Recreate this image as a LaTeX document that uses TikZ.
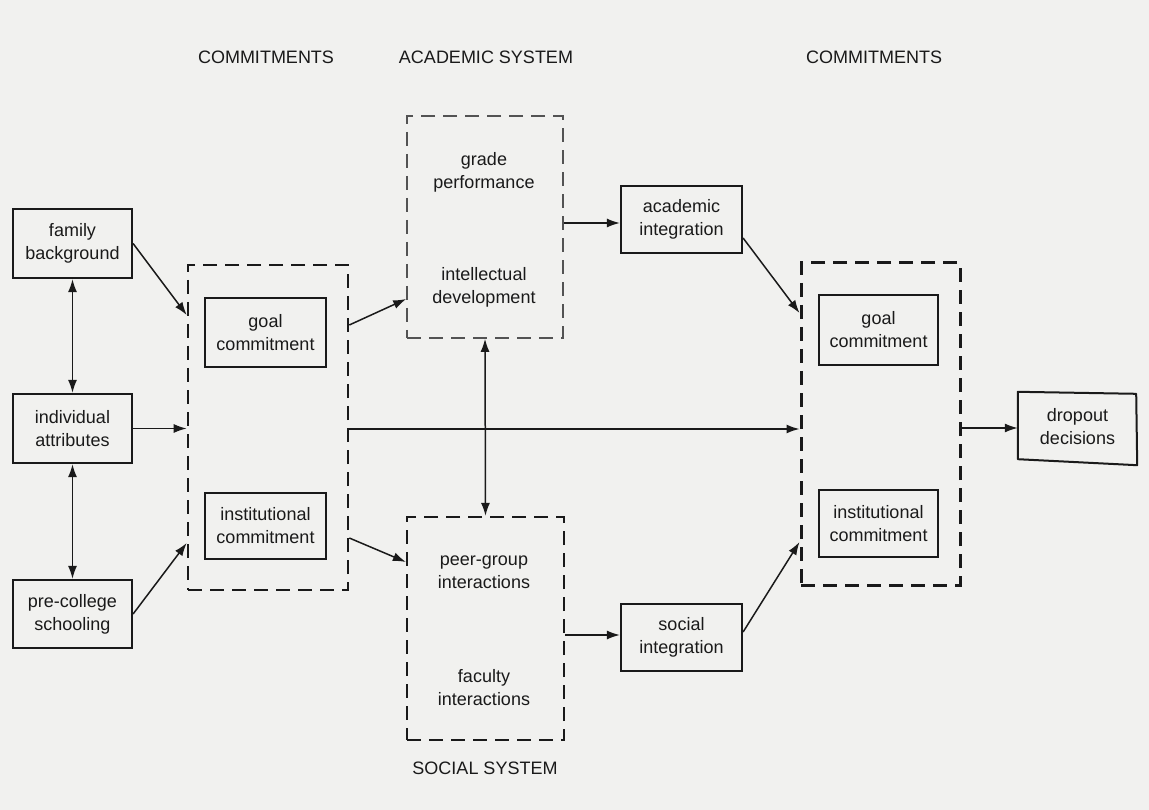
\documentclass[tikz,border=0pt]{standalone}
\usepackage{fontspec}
\setmainfont{Liberation Sans}
\usetikzlibrary{arrows.meta,calc}
\definecolor{ink}{HTML}{1A1A1A}
\definecolor{paper}{HTML}{F1F1EF}
\tikzset{
  every node/.style={font=\fontsize{18}{23}\selectfont, text=ink, align=center},
  solidbox/.style={draw=ink, line width=2.2pt, inner sep=0pt},
  dashbox/.style={draw=ink, line width=2.6pt, dash pattern=on 14pt off 8pt, inner sep=0pt},
  lightdash/.style={draw=ink!75, line width=1.6pt, dash pattern=on 14pt off 8pt, inner sep=0pt},
  arr/.style={draw=ink, line width=1.5pt, -{Latex[length=13pt,width=9pt]}},
  darr/.style={draw=ink, line width=1.5pt, {Latex[length=13pt,width=9pt]}-{Latex[length=13pt,width=9pt]}},
  title/.style={font=\fontsize{18}{23}\selectfont}
}
\begin{document}
\begin{tikzpicture}[x=1pt,y=-1pt]
\fill[paper] (0,0) rectangle (1149,810);
\useasboundingbox (0,0) rectangle (1149,810);

% titles
\node[title] (t1) at (266,57) {COMMITMENTS};
\node[title] (t2) at (486,57) {ACADEMIC SYSTEM};
\node[title] (t3) at (874,57) {COMMITMENTS};
\node[title] (t4) at (485,768) {SOCIAL SYSTEM};

% left column
\node[solidbox, minimum width=119pt, minimum height=69pt] (FB) at (72.5,243.5) {family\\background};
\node[solidbox, minimum width=119pt, minimum height=69pt] (IA) at (72.5,428.5) {individual\\attributes};
\node[solidbox, minimum width=119pt, minimum height=68pt] (PC) at (72.5,614) {pre-college\\schooling};

% left commitments
\node[dashbox, minimum width=160pt, minimum height=325pt] (LB) at (268,427.5) {};
\node[solidbox, minimum width=121pt, minimum height=69pt] (GC1) at (265.5,332.5) {goal\\commitment};
\node[solidbox, minimum width=121pt, minimum height=66pt] (IC1) at (265.5,526) {institutional\\commitment};

% academic system
\node[lightdash, minimum width=156pt, minimum height=222pt] (AS) at (485,227) {};
\node (GP) at (484,172) {grade\\performance};
\node (ID) at (484,287) {intellectual\\development};

% social system
\node[dashbox, line width=2.2pt, minimum width=157pt, minimum height=223pt] (SS) at (485.5,628.5) {};
\node (PG) at (484,572) {peer-group\\interactions};
\node (FI) at (484,688) {faculty\\interactions};

% integration
\node[solidbox, minimum width=121pt, minimum height=67pt] (AI) at (681.5,219.5) {academic\\integration};
\node[solidbox, minimum width=121pt, minimum height=67pt] (SI) at (681.5,637.5) {social\\integration};

% right commitments
\node[dashbox, line width=3pt, minimum width=159pt, minimum height=322pt] (RB) at (880.5,424) {};
\node[solidbox, minimum width=119pt, minimum height=70pt] (GC2) at (878.5,330) {goal\\commitment};
\node[solidbox, minimum width=119pt, minimum height=67pt] (IC2) at (878.5,523.5) {institutional\\commitment};

% dropout
\node[minimum width=119pt, minimum height=70pt, inner sep=0pt] (DD) at (1077.5,427) {dropout\\decisions};
\draw[ink, line width=2pt, line join=round]
  (DD.north west) -- ($(DD.north east)+(-1,2)$) -- ($(DD.south east)+(0,3)$) -- ($(DD.south west)+(0,-3)$) -- cycle;

% connectors
\draw[arr] (FB.east) -- (LB.west |- 0,315);
\draw[arr] (IA.east) -- (IA.east -| LB.west);
\draw[arr] (PC.east) -- (LB.west |- 0,543);
\draw[darr] (FB.south) -- (IA.north);
\draw[darr] (IA.south) -- (PC.north);

\draw[arr] (LB.east |- 0,325) -- (AS.west |- 0,299);
\draw[arr] (LB.east |- 0,538) -- (SS.west |- 0,562);
\draw[darr] (AS.south) -- (SS.north);

\draw[arr] (AS.east |- 0,223) -- (AI.west |- 0,223);
\draw[arr] (SS.east |- 0,635) -- (SI.west |- 0,635);

\draw[arr] (LB.east |- 0,429) -- (RB.west |- 0,429);
\draw[arr] (AI.east |- 0,238) -- (RB.west |- 0,313);
\draw[arr] (SI.east |- 0,632) -- (RB.west |- 0,542);
\draw[arr] (RB.east |- 0,428) -- (DD.west |- 0,428);
\end{tikzpicture}
\end{document}
